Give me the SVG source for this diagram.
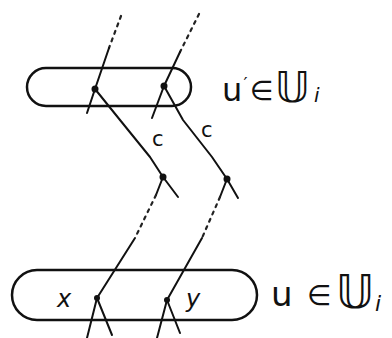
<svg xmlns="http://www.w3.org/2000/svg" width="392" height="338" viewBox="0 0 392 338">
<style>
.set{fill:none;stroke:#111;stroke-width:2.5}
.ln{fill:none;stroke:#111;stroke-width:2;stroke-linecap:round;stroke-linejoin:round}
.ds{fill:none;stroke:#222;stroke-width:2.2;stroke-dasharray:3 5;stroke-linecap:round}
.dot{fill:#111}
.t{font-family:"DejaVu Sans","Noto Sans",sans-serif;fill:#111}
</style>
<rect width="392" height="338" fill="#fff"/>
<g id="set-top">
<rect class="set" x="27" y="68" width="164" height="38" rx="19"/>
<g class="t">
<text x="222" y="101" font-size="32">u</text>
<text x="243.5" y="90" font-size="18">′</text>
<text x="250" y="100" font-size="27">∈</text>
<text x="275" y="102" font-size="42">𝕌</text>
<text x="314" y="102" font-size="20" font-style="italic">i</text>
</g>
</g>
<g id="set-bottom">
<rect class="set" x="12" y="270" width="245" height="50" rx="25"/>
<g class="t">
<text x="57" y="307" font-size="24" font-style="italic">x</text>
<text x="186" y="307" font-size="24" font-style="italic">y</text>
<text x="271" y="306" font-size="34">u</text>
<text x="307" y="305" font-size="28">∈</text>
<text x="336" y="308" font-size="46">𝕌</text>
<text x="375" y="311" font-size="22" font-style="italic">i</text>
</g>
</g>
<g id="connectors">
<path class="ds" d="M121,16 L109,48"/>
<path class="ln" d="M109,48 L95,89 L87,113"/>
<path class="ds" d="M199,14 L180,52"/>
<path class="ln" d="M180,52 L164,86 L152,118"/>
<path class="ln" d="M95,89 L120,120 L150,157 L163,177 L178,197"/>
<path class="ln" d="M164,86 L183,120 L212,157 L227,179 L238,198"/>
<path class="ln" d="M163,177 L156,195"/>
<path class="ds" d="M156,195 L135,238"/>
<path class="ln" d="M135,238 L97,298 L87,338"/>
<path class="ln" d="M227,179 L220,197"/>
<path class="ds" d="M220,197 L202,238"/>
<path class="ln" d="M202,238 L167,300 L157,338"/>
<path class="ln" d="M97,298 L112,335"/>
<path class="ln" d="M167,300 L180,333"/>
<text class="t" x="152" y="146" font-size="21">c</text>
<text class="t" x="201" y="137" font-size="21">c</text>
</g>
<g id="points">
<circle class="dot" cx="95" cy="89" r="3.5"/>
<circle class="dot" cx="164" cy="86" r="3.5"/>
<circle class="dot" cx="163" cy="177" r="3.5"/>
<circle class="dot" cx="227" cy="179" r="3.5"/>
<circle class="dot" cx="97" cy="298" r="3"/>
<circle class="dot" cx="167" cy="300" r="3"/>
</g>
</svg>
